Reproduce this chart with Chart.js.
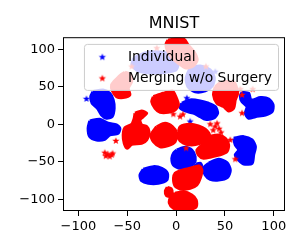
<!DOCTYPE html>
<html>
<head>
<meta charset="utf-8">
<script src="https://cdn.jsdelivr.net/npm/chart.js@4"></script>
<style>
  html, body { margin: 0; padding: 0; background: #fff; }
</style>
</head>
<body>
<canvas id="chart" width="300" height="250"></canvas>
<script>
/* ---------- data ---------- */
const chartTitle = 'MNIST';
const seriesNames = ['Individual', 'Merging w/o Surgery'];
const seriesColors = ['#0000ff', '#ff0000'];
const xTicks = [-100, -50, 0, 50, 100];
const yTicks = [-100, -50, 0, 50, 100];
const xRange = [-115.8, 111.5];
const yRange = [-115.6, 116];

// outline of each t-SNE cluster, [x, y]
const individualBlobs = [
    [[-85, 43.5], [-74.7, 45.7], [-67.8, 41.3], [-64.4, 32.4], [-63.4, 21.3], [-65.5, 10.1], [-71.2, 8], [-76.4, 12.4], [-80.5, 21.3], [-86, 28], [-87.4, 36.8]],
    [[-88.4, 4.4], [-78.1, 6.7], [-69.6, 1.3], [-61, -0.9], [-57.6, -5.3], [-59.3, -12], [-67.8, -14.3], [-73, -20], [-81.5, -20.9], [-88.4, -16.5], [-90.1, -5.3]],
    [[-43.2, 88.4], [-31.9, 95.1], [-16.4, 96.4], [-4.1, 92.4], [2.1, 83.1], [0, 72.4], [-11.3, 69.1], [-26.7, 68.4], [-39.1, 71.1], [-45.2, 79.1]],
    [[14.4, 75.1], [24.7, 77.7], [34.9, 72.4], [39.1, 61.7], [37, 51.1], [29.8, 44.4], [19.5, 43.1], [12.3, 49.7], [10.3, 61.7]],
    [[5.8, 28], [14.4, 32.4], [24.7, 31.1], [33.2, 28], [40.1, 23.5], [42.5, 14.7], [38.3, 8], [29.8, 6.7], [24.7, 10.1], [17.8, 14.7], [9.2, 17.7], [4.1, 22.1]],
    [[67.5, 42.6], [74.3, 41.3], [76.7, 32.4], [86.3, 35.5], [94.9, 33.7], [99.3, 25.7], [98.3, 16.8], [91.5, 12.4], [81.2, 10.1], [74.3, 8], [70.9, 14.7], [72.6, 23.5], [67.5, 30.1], [65.8, 36.8]],
    [[0.7, -34.3], [9.2, -30.7], [16.1, -34.3], [19.5, -43.2], [18.5, -52], [12.6, -57.3], [4.1, -58.7], [-2.7, -54.3], [-4.4, -45.3], [-2.7, -38.7]],
    [[58.9, -18.7], [69.2, -16.5], [77.8, -20.9], [81.2, -29.9], [79.4, -40.9], [77.8, -52], [69.2, -52.9], [64, -47.6], [60.6, -40.9], [64, -34.3], [60.6, -27.6]],
    [[33.2, -52], [43.5, -46.7], [52.1, -51.2], [55.5, -60.9], [52.7, -70.7], [43.5, -74.3], [34.9, -73.3], [29.8, -67.6], [28.1, -58.7]],
    [[-33.6, -60], [-23.3, -56.5], [-14.7, -58.7], [-8.9, -65.3], [-9.6, -74.3], [-18.2, -78.7], [-28.5, -78.7], [-35.3, -75.2], [-37, -67.6]],
    [[20.5, -53], [25, -52], [26.5, -57], [25, -62], [21, -62], [19.5, -57]]
];
const individualStars = [[-91.8, 33.7], [11, 34.7], [14.4, 3.5], [40.1, 70]];

const mergingBlobs = [
    [[-52.4, 69.3], [-46.6, 66.6], [-45.5, 56.8], [-49, 48], [-47.3, 39.1], [-54.2, 35.5], [-61, 36.8], [-65.1, 44.4], [-66.1, 52.4], [-61, 60.4], [-55.8, 66.6]],
    [[-8.2, 112.4], [-1, 113.5], [8.2, 113], [12.3, 105.7], [18.5, 96.4], [21.6, 85.7], [17.5, 77.7], [9.2, 75.1], [2.1, 81.7], [-4.1, 88.4], [-9.2, 99.1], [-10.3, 107.1]],
    [[-23.3, 36.8], [-13.1, 41.3], [-3.8, 44.4], [-0.3, 36.8], [2.4, 25.7], [-1, 19.1], [-7.9, 16], [-16.4, 16], [-21.6, 21.3], [-25, 30.1]],
    [[40.1, 50.1], [45, 55], [52, 57], [60, 55], [63, 41.3], [60.6, 32.4], [58.9, 21.3], [53.8, 17.7], [48.6, 23.5], [41.8, 28], [38.3, 39.1]],
    [[-42.1, 14.7], [-35.3, 17.7], [-30.1, 14.7], [-33.6, 10.1], [-37, 5.7], [-35.3, -0.9], [-30.1, -3.2], [-27.7, -9.9], [-30.1, -20.9], [-35.3, -25.3], [-45.5, -26.7], [-50, -32], [-53.1, -25.3], [-54.2, -14.3], [-52.4, -4.5], [-45.5, 0], [-42.9, 8]],
    [[-19.9, -3.2], [-11.3, 1.3], [-3.8, -3.2], [0.7, -12], [-1, -23.2], [-7.9, -28.5], [-16.4, -29.9], [-23.3, -23.2], [-25.7, -14.3]],
    [[2.4, -9.9], [4.1, -3.2], [14.4, 0], [22.9, -2.3], [29.8, -6.7], [34.2, -14.3], [31.6, -20.9], [24.7, -25.3], [16.1, -27.6], [7.5, -25.3], [2.4, -18.7]],
    [[33.2, -16.5], [43.5, -14.3], [50.4, -18.7], [53.8, -27.6], [52.1, -36.5], [45.2, -40.9], [36.7, -43.2], [28.1, -45.3], [22.9, -40.9], [21.3, -34.3], [26.4, -27.6], [31.6, -23.2]],
    [[4.1, -61.8], [14.4, -58.7], [22.9, -55.6], [26.4, -60.9], [24.7, -72.1], [21.3, -80.9], [14.4, -85.4], [5.9, -86.7], [-1, -82.3], [-2.7, -72.1], [-1, -65.3]],
    [[-9, -84], [-5, -86], [-4, -92], [-6, -96], [-10, -95], [-11, -89]],
    [[-1, -92], [7.5, -89.9], [16.1, -94.3], [20.6, -100.9], [20.6, -109.9], [12.6, -114.3], [4.1, -115], [-2.7, -112], [-6.9, -105.3], [-5.4, -96.5]]
];
const mergingStars = [
    [-61.7, -22.3], [-2.8, 13.3], [4.1, 10.1], [7, 13], [35, 0], [40, -3], [44, -6], [38, -8], [46, -11], [42, 1],
    [67.5, 14.7], [67.5, 39], [55.5, -21], [60.6, -46.7], [10.3, -32], [23.9, -57.3],
    [-45.5, 76.8], [-19.8, 101.3], [30.5, 76.8], [65.8, 46.7], [78.4, 46.7],
    [-73, -38], [-70, -40], [-66, -41], [-72, -42.5], [-68, -43], [-65, -39]
];

/* ---------- helpers ---------- */
const FONT = '"DejaVu Sans", sans-serif';
const fmtTick = v => (v < 0 ? '\u2212' + Math.abs(v) : String(v));
const toXY = pts => pts.map(([x, y]) => ({ x, y }));

function makeStar(color, r) {
    const c = document.createElement('canvas');
    const size = Math.ceil(r * 2) + 2;
    c.width = c.height = size;
    const g = c.getContext('2d');
    g.fillStyle = color;
    g.beginPath();
    for (let i = 0; i < 10; i++) {
        const rad = i % 2 ? r * 0.42 : r;
        const a = -Math.PI / 2 + i * Math.PI / 5;
        g.lineTo(size / 2 + rad * Math.cos(a), size / 2 + rad * Math.sin(a));
    }
    g.closePath();
    g.fill();
    return c;
}
const starImgs = seriesColors.map(c => makeStar(c, 3.8));

function blobSet(pts, color, order) {
    return {
        type: 'line',
        data: toXY(pts.concat([pts[0]])),
        borderColor: color,
        backgroundColor: color,
        borderWidth: 3,
        borderJoinStyle: 'round',
        fill: 'shape',
        tension: 0.25,
        pointRadius: 0,
        order
    };
}
function starSet(pts, idx, order) {
    return {
        type: 'scatter',
        label: seriesNames[idx],
        data: toXY(pts),
        pointStyle: starImgs[idx],
        pointRadius: 3,
        backgroundColor: seriesColors[idx],
        order
    };
}

// frame + matplotlib-like legend, drawn over the points
const frameAndLegend = {
    id: 'frameAndLegend',
    afterDatasetsDraw(chart) {
        const { ctx, chartArea: a } = chart;
        ctx.save();
        ctx.strokeStyle = '#000';
        ctx.lineWidth = 1;
        ctx.strokeRect(a.left + 0.5, a.top + 0.5, a.width - 1, a.height - 1);

        ctx.font = '13.9px ' + FONT;
        const textW = Math.max(...seriesNames.map(s => ctx.measureText(s).width));
        const w = 44 + textW + 6;
        const h = 46;
        const x = a.right - 7 - w;
        const y = a.top + 6.7;
        ctx.beginPath();
        ctx.roundRect(x + 0.5, y + 0.5, w, h, 3);
        ctx.fillStyle = 'rgba(255,255,255,0.8)';
        ctx.fill();
        ctx.strokeStyle = '#cccccc';
        ctx.stroke();

        ctx.textBaseline = 'middle';
        ctx.fillStyle = '#000';
        seriesNames.forEach((name, i) => {
            const cy = y + 13.3 + i * 21.3;
            const img = starImgs[i];
            ctx.drawImage(img, x + 18.4 - img.width / 2, cy - img.height / 2);
            ctx.fillText(name, x + 44, cy);
        });
        ctx.restore();
    }
};

/* ---------- chart ---------- */
Chart.defaults.font.family = FONT;
Chart.defaults.color = '#000';

const datasets = [
    ...mergingBlobs.map(b => blobSet(b, seriesColors[1], 1)),
    starSet(mergingStars, 1, 0),
    ...individualBlobs.map(b => blobSet(b, seriesColors[0], 3)),
    starSet(individualStars, 0, 2)
];

function axisOpts(range, ticks, isX) {
    return {
        type: 'linear',
        min: range[0],
        max: range[1],
        afterBuildTicks: s => { s.ticks = ticks.map(v => ({ value: v })); },
        afterFit: s => { if (isX) s.height = 39; else s.width = 63; },
        grid: { display: true, drawOnChartArea: false, drawTicks: true, tickLength: 5, tickColor: '#000', tickWidth: 1 },
        border: { display: false },
        ticks: {
            color: '#000',
            font: { family: FONT, size: 13 },
            padding: 3,
            autoSkip: false,
            maxRotation: 0,
            callback: v => fmtTick(v)
        }
    };
}

new Chart(document.getElementById('chart'), {
    type: 'scatter',
    data: { datasets },
    options: {
        responsive: false,
        animation: false,
        layout: { padding: { left: 0, right: 15, top: 0, bottom: 0 } },
        plugins: {
            legend: { display: false },
            tooltip: { enabled: false },
            title: {
                display: true,
                text: chartTitle,
                fullSize: false,
                color: '#000',
                font: { family: FONT, size: 16, weight: 'normal' },
                padding: { top: 14, bottom: 4 }
            }
        },
        scales: {
            x: axisOpts(xRange, xTicks, true),
            y: axisOpts(yRange, yTicks, false)
        }
    },
    plugins: [frameAndLegend]
});
</script>
</body>
</html>
